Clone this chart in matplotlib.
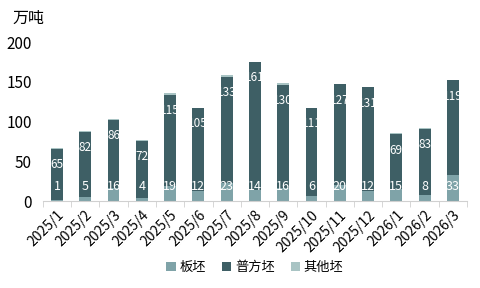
import matplotlib
matplotlib.use("Agg")
import matplotlib.pyplot as plt
import numpy as np

plt.rcParams['font.family'] = ['Noto Sans CJK SC', 'DejaVu Sans']

months = ['2025/1', '2025/2', '2025/3', '2025/4', '2025/5', '2025/6', '2025/7', '2025/8',
          '2025/9', '2025/10', '2025/11', '2025/12', '2026/1', '2026/2', '2026/3']
slab = [1, 5, 16, 4, 19, 12, 23, 14, 16, 6, 20, 12, 15, 8, 33]
billet = [65, 82, 86, 72, 115, 105, 133, 161, 130, 111, 127, 131, 69, 83, 119]
other = [0.5, 0.5, 1, 0.5, 2, 0.5, 2, 0.5, 2, 0.5, 0.5, 0.5, 1, 0.5, 0.5]

c_slab = '#7fa3a8'
c_billet = '#3e5f65'
c_other = '#a9c4c4'

fig = plt.figure(figsize=(4.81, 2.88), dpi=100)
ax = fig.add_axes([0.089, 0.302, 0.882, 0.552])

x = np.arange(len(months))
slab = np.array(slab)
billet = np.array(billet)
other = np.array(other)
w = 0.42

ax.bar(x, slab, w, color=c_slab, label='板坯')
ax.bar(x, billet, w, bottom=slab, color=c_billet, label='普方坯')
ax.bar(x, other, w, bottom=slab + billet, color=c_other, label='其他坯')

for i in range(len(x)):
    ax.annotate(str(slab[i]), (x[i], 0), xytext=(0, 10.5), textcoords='offset points',
                ha='center', va='center', color='white', fontsize=9)
    ax.annotate(str(billet[i]), (x[i], slab[i] + billet[i]), xytext=(0, -11.5),
                textcoords='offset points', ha='center', va='center',
                color='white', fontsize=8.5)

ax.set_ylim(0, 200)
ax.set_yticks([0, 50, 100, 150, 200])
ax.set_xlim(-0.5, len(x) - 0.5)
ax.set_xticks(x)
ax.set_xticklabels(months, rotation=45, ha='right', rotation_mode='anchor', fontsize=10)
ax.tick_params(axis='x', length=0, pad=5)
ax.tick_params(axis='y', length=0, labelsize=11, pad=8)
ax.set_xticks(np.arange(-0.5, len(x), 1), minor=True)
ax.tick_params(axis='x', which='minor', length=4, color='#d0d0d0')

for s in ['top', 'right', 'left']:
    ax.spines[s].set_visible(False)
ax.spines['bottom'].set_color('#d0d0d0')

fig.text(0.025, 0.935, '万吨', fontsize=11.5, va='center')

ax.legend(loc='center', bbox_to_anchor=(0.5, -0.42), ncol=3, frameon=False,
          fontsize=9.5, handlelength=0.7, handleheight=0.7, handletextpad=0.3,
          columnspacing=1.2)

fig.savefig('out.png', dpi=100)
